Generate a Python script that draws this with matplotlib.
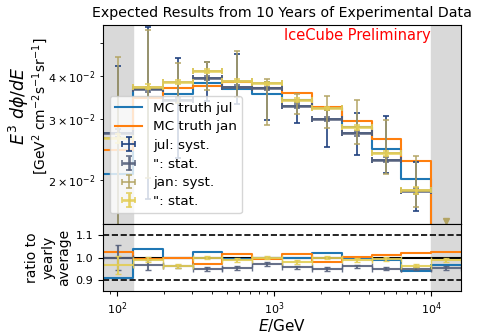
import numpy as np
import matplotlib
matplotlib.use("Agg")
import matplotlib.pyplot as plt

# bin edges in GeV
edges = np.array([81.3, 125.9, 195.0, 302.0, 467.7, 724.4, 1122, 1738, 2692, 4169, 6457, 10000, 15488])
centers = np.sqrt(edges[:-1] * edges[1:])

# main panel: E^3 dphi/dE
mc_jul = [0.02076, 0.0366, 0.03546, 0.03809, 0.0366, 0.03546, 0.03408, 0.03228, 0.02838, 0.02465, 0.02017, 0.0120]
mc_jan = [0.02437, 0.0345, 0.03684, 0.03748, 0.0385, 0.03684, 0.03577, 0.0325, 0.02965, 0.02623, 0.02264, 0.0130]
data_jul = [0.02737, 0.03659, 0.0341, 0.03939, 0.03724, 0.03684, 0.03272, 0.02993, 0.02726, 0.0229, 0.01859, np.nan]
data_jan = [0.02641, 0.03724, 0.0385, 0.04135, 0.03876, 0.03809, 0.03408, 0.0322, 0.02838, 0.02385, 0.01865, np.nan]
jul_syst_lo = [0.0154, 0.019, 0.011, 0.0055, 0.004, 0.007, 0.0035, 0.005, 0.0037, 0.002, 0.0023, 0]
jul_syst_hi = [0.0154, 0.019, 0.011, 0.0045, 0.009, 0.0015, 0.001, 0.002, 0.004, 0.0077, 0.004, 0]
jan_syst_lo = [0.019, 0.017, 0.005, 0.005, 0.004, 0.0092, 0.003, 0.004, 0.003, 0.0031, 0.002, 0]
jan_syst_hi = [0.019, 0.017, 0.005, 0.0025, 0.0085, 0.001, 0.0015, 0.0028, 0.0057, 0.006, 0.0048, 0]
stat_err = [0.0008, 0.0006, 0.0005, 0.0005, 0.0004, 0.0004, 0.0004, 0.0004, 0.0004, 0.0004, 0.0004, 0]
jan_limit = [np.nan] * 11 + [0.01516]

# ratio panel
r_mc_jul = [0.908, 1.036, 1.0, 1.024, 0.995, 1.0, 0.998, 1.021, 0.997, 0.99, 0.941, 0.968]
r_mc_jan = [1.026, 0.994, 1.0, 0.973, 1.017, 0.994, 1.017, 0.979, 1.003, 1.012, 1.018, 1.026]
r_data_jul = [1.0, 0.968, 0.96, 0.949, 0.953, 0.971, 0.956, 0.949, 0.96, 0.95, 0.95, 0.953]
r_data_jan = [0.968, 0.99, 0.962, 1.0, 0.99, 1.0, 0.979, 1.0, 0.99, 0.994, 0.964, 0.99]
r_jul_err = [0.055, 0.023, 0.008, 0.008, 0.008, 0.008, 0.008, 0.008, 0.008, 0.008, 0.008, 0.008]
r_jan_err = [0.04, 0.012, 0.008, 0.008, 0.008, 0.008, 0.008, 0.008, 0.008, 0.008, 0.008, 0.008]

c_jul_syst = '#21427f'
c_jul_stat = '#56617c'
c_jan_syst = '#b3a463'
c_jan_stat = '#e3cd55'

xerr = np.array([centers - edges[:-1], edges[1:] - centers])

fig = plt.figure(figsize=(5.03, 3.36), dpi=100)
ax = fig.add_axes([0.2048, 0.3333, 0.7117, 0.5923])
axr = fig.add_axes([0.2048, 0.1339, 0.7117, 0.1994], sharex=ax)

for a in (ax, axr):
    a.axvspan(edges[0], edges[1], color='#d9d9d9', zorder=0)
    a.axvspan(edges[-2], edges[-1], color='#d9d9d9', zorder=0)

# main panel
ax.step(edges, np.append(mc_jul, mc_jul[-1]), where='post', color='C0', lw=1.5, label='MC truth jul')
ax.step(edges, np.append(mc_jan, mc_jan[-1]), where='post', color='C1', lw=1.5, label='MC truth jan')
ax.errorbar(centers, data_jul, yerr=[jul_syst_lo, jul_syst_hi], xerr=xerr, fmt='none',
            ecolor=c_jul_syst, elinewidth=1.2, capsize=2, capthick=1.2, label='jul: syst.')
ax.errorbar(centers, data_jul, yerr=stat_err, xerr=xerr, fmt='none',
            ecolor=c_jul_stat, elinewidth=1.9, capsize=2, capthick=1.2, alpha=0.9, label='": stat.')
ax.errorbar(centers, data_jan, yerr=[jan_syst_lo, jan_syst_hi], xerr=xerr, fmt='none',
            ecolor=c_jan_syst, elinewidth=1.2, capsize=2, capthick=1.2, alpha=0.9, label='jan: syst.')
ax.errorbar(centers, data_jan, yerr=stat_err, xerr=xerr, fmt='none',
            ecolor=c_jan_stat, elinewidth=1.9, capsize=2, capthick=1.2, alpha=0.9, label='": stat.')
ax.plot(centers, jan_limit, 'v', color=c_jan_syst, ms=5)

ax.set_xscale('log')
ax.set_yscale('log')
ax.set_xlim(edges[0], edges[-1])
ax.set_ylim(0.0149, 0.0562)
ax.tick_params(axis='x', labelbottom=False)
ax.tick_params(labelsize=8, which='both')
# two-line y label, first line larger
fig.text(0.038, 0.685, '$E^3\\ d\\phi/dE$', rotation=90, fontsize=12.5, ha='center', va='center')
fig.text(0.080, 0.685, '[GeV$^2$ cm$^{-2}$s$^{-1}$sr$^{-1}$]', rotation=90, fontsize=10,
         ha='center', va='center')
ax.set_title('Expected Results from 10 Years of Experimental Data', fontsize=10.2)
ax.text(0.915, 0.985, 'IceCube Preliminary', color='red', fontsize=10.5,
        ha='right', va='top', transform=ax.transAxes)
ax.legend(loc='lower left', fontsize=9.7, labelspacing=0.42, bbox_to_anchor=(0.0, 0.02))

# ratio panel
axr.axhline(1.0, color='black', lw=1.5)
axr.axhline(0.9, color='black', ls='--', lw=1.2)
axr.axhline(1.1, color='black', ls='--', lw=1.2)
axr.step(edges, np.append(r_mc_jul, r_mc_jul[-1]), where='post', color='C0', lw=1.5)
axr.step(edges, np.append(r_mc_jan, r_mc_jan[-1]), where='post', color='C1', lw=1.5)
axr.errorbar(centers, r_data_jul, yerr=r_jul_err, xerr=xerr, fmt='none',
             ecolor=c_jul_stat, elinewidth=1.5, capsize=2, alpha=0.9)
axr.errorbar(centers, r_data_jan, yerr=r_jan_err, xerr=xerr, fmt='none',
             ecolor=c_jan_stat, elinewidth=1.5, capsize=2, alpha=0.9)
axr.set_ylim(0.85, 1.15)
axr.set_yticks([0.9, 1.0, 1.1])
axr.tick_params(labelsize=8)
axr.set_ylabel('ratio to\nyearly\naverage', fontsize=10, labelpad=3)
axr.set_xlabel('$E$/GeV', fontsize=11, labelpad=0)

fig.savefig('out.png', dpi=100)
